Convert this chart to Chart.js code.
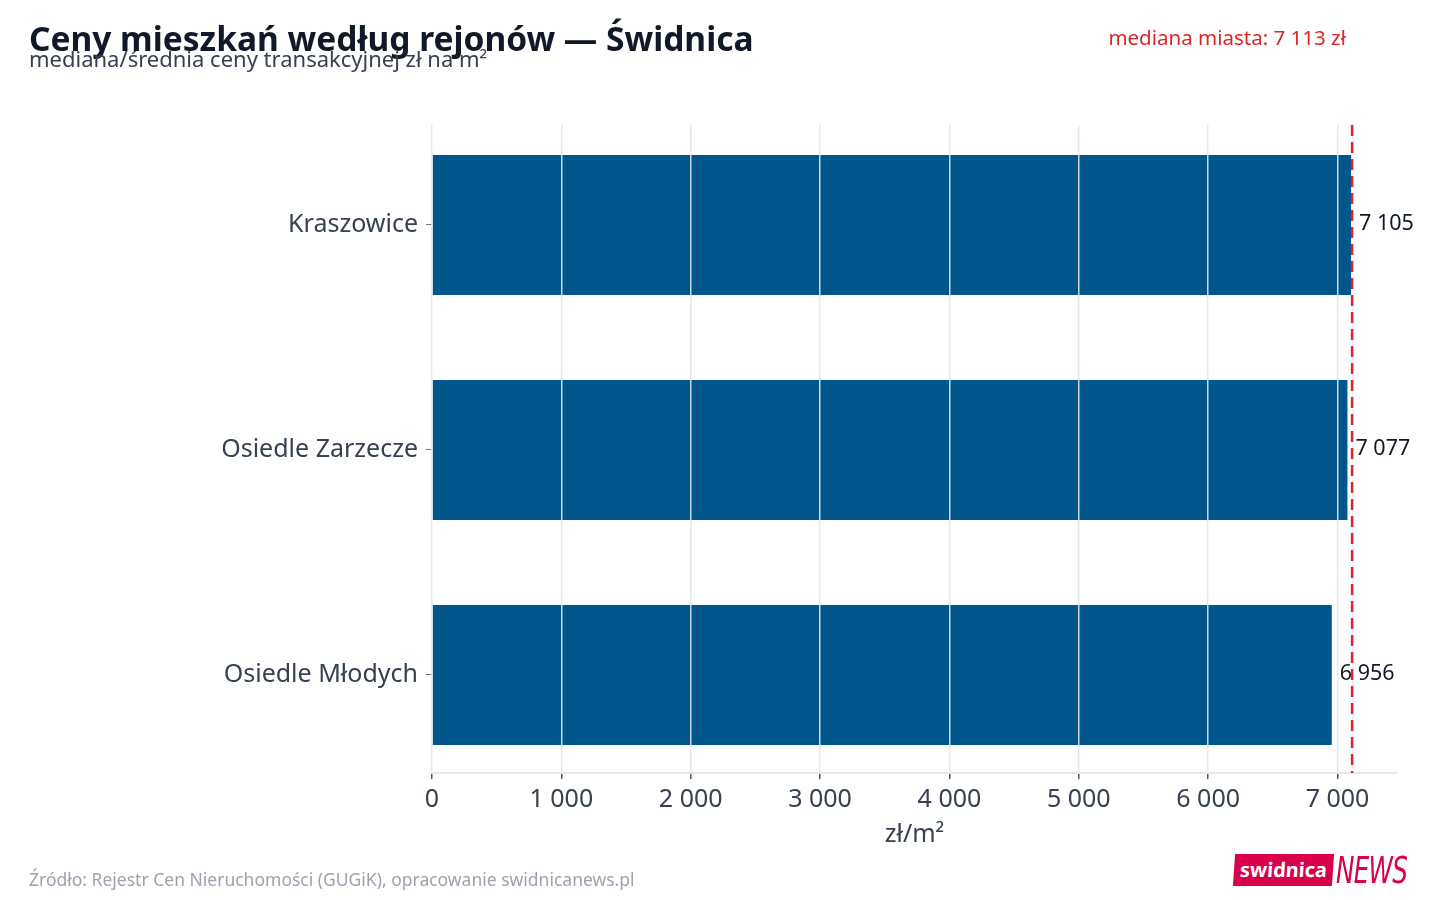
<!DOCTYPE html>
<html>
<head>
<meta charset="utf-8">
<script src="https://cdn.jsdelivr.net/npm/chart.js@4.4.1/dist/chart.umd.min.js"></script>
<style>
  body { margin: 0; background: #fff; font-family: "Noto Sans", sans-serif; }
  #wrap { position: relative; width: 1440px; height: 900px; overflow: hidden; }
  #canvas { position: absolute; left: 0; top: 0; }
  .title { position: absolute; left: 29px; top: 15px; font-size: 33.5px; font-weight: 700; color: #111827; white-space: nowrap; }
  .sub { position: absolute; left: 29px; top: 43px; font-size: 22px; color: #374151; white-space: nowrap; }
  .median { position: absolute; right: 94px; top: 23px; font-size: 20.5px; color: #dc2626; white-space: nowrap; }
  .source { position: absolute; left: 29px; top: 867px; font-size: 17.5px; color: #9ca3af; white-space: nowrap; }
  .logo { position: absolute; left: 1234px; top: 853px; height: 33px; display: flex; align-items: center; }
  .logo .box { background: #d9004c; color: #fff; font-weight: 700; font-size: 20px; padding: 0 6px; height: 32px; line-height: 32px; transform: skewX(-4deg); }
  .logo .news { color: #d9004c; font-size: 38px; font-style: italic; font-family: "Liberation Sans Narrow", "DejaVu Sans Condensed", sans-serif; letter-spacing: -1px; margin-left: 3px; line-height: 32px; transform: scaleX(0.72); transform-origin: left; }
</style>
</head>
<body>
<div id="wrap">
  <canvas id="canvas" width="1440" height="900"></canvas>
  <div class="title">Ceny mieszkań według rejonów — Świdnica</div>
  <div class="sub">mediana/średnia ceny transakcyjnej zł na m²</div>
  <div class="median">mediana miasta: 7 113 zł</div>
  <div class="source">Źródło: Rejestr Cen Nieruchomości (GUGiK), opracowanie swidnicanews.pl</div>
  <div class="logo"><span class="box">swidnica</span><span class="news">NEWS</span></div>
</div>
<script>
var regions = ["Kraszowice", "Osiedle Zarzecze", "Osiedle Młodych"];
var prices = [7105, 7077, 6956];
var cityMedian = 7113;
var xTicks = [0, 1000, 2000, 3000, 4000, 5000, 6000, 7000];

function fmt(v) {
    return String(Math.round(v)).replace(/\B(?=(\d{3})+(?!\d))/g, " ");
}

// median line + value labels
var extras = {
    id: 'extras',
    afterDraw: function (chart) {
        var ctx = chart.ctx;
        var xs = chart.scales.x;
        var area = chart.chartArea;
        var meta = chart.getDatasetMeta(0);
        ctx.save();
        ctx.font = '21.5px "Noto Sans"';
        ctx.fillStyle = '#111827';
        ctx.textBaseline = 'middle';
        meta.data.forEach(function (bar, i) {
            ctx.fillText(fmt(prices[i]), bar.x + 8, bar.y - 1);
        });
        var mx = xs.getPixelForValue(cityMedian);
        ctx.strokeStyle = '#dc2626';
        ctx.lineWidth = 2.5;
        ctx.setLineDash([11, 6]);
        ctx.beginPath();
        ctx.moveTo(mx, area.top);
        ctx.lineTo(mx, area.bottom);
        ctx.stroke();
        ctx.restore();
    }
};

window.onload = function () {
    var ctx = document.getElementById("canvas").getContext("2d");
    window.myChart = new Chart(ctx, {
        type: 'bar',
        data: {
            datasets: [{
                data: prices.map(function (p, i) { return { x: p, y: i }; }),
                backgroundColor: '#01568c',
                categoryPercentage: 1,
                barPercentage: 0.622
            }]
        },
        options: {
            indexAxis: 'y',
            responsive: false,
            animation: false,
            layout: { padding: { top: 125, right: 43, left: 0, bottom: 48 } },
            plugins: { legend: { display: false }, tooltip: { enabled: false } },
            scales: {
                x: {
                    min: 0,
                    max: 7460,
                    afterBuildTicks: function (scale) {
                        scale.ticks = xTicks.map(function (v) { return { value: v }; });
                    },
                    afterFit: function (scale) { scale.height = 79; },
                    grid: { color: 'rgba(226,229,234,0.9)', lineWidth: 1.5, z: 1, tickLength: 6, tickColor: '#4b5563' },
                    border: { color: '#e5e7eb', width: 2, z: 1 },
                    ticks: {
                        color: '#374151',
                        font: { family: 'Noto Sans', size: 25 },
                        padding: 6,
                        callback: function (v) { return fmt(v); }
                    },
                    title: {
                        display: true,
                        text: 'zł/m²',
                        color: '#374151',
                        font: { family: 'Noto Sans', size: 25 },
                        padding: { top: 0, bottom: 2 }
                    }
                },
                y: {
                    type: 'linear',
                    reverse: true,
                    offset: false,
                    min: -0.444,
                    max: 2.436,
                    afterBuildTicks: function (scale) {
                        scale.ticks = regions.map(function (r, i) { return { value: i }; });
                    },
                    afterFit: function (scale) { scale.width = 432; },
                    grid: { offset: false, drawOnChartArea: false, tickLength: 6, tickColor: '#6b7280' },
                    border: { display: false },
                    ticks: {
                        color: '#374151',
                        font: { family: 'Noto Sans', size: 25 },
                        padding: 8,
                        callback: function (v) { return regions[v]; }
                    }
                }
            }
        },
        plugins: [extras]
    });
};
</script>
</body>
</html>
